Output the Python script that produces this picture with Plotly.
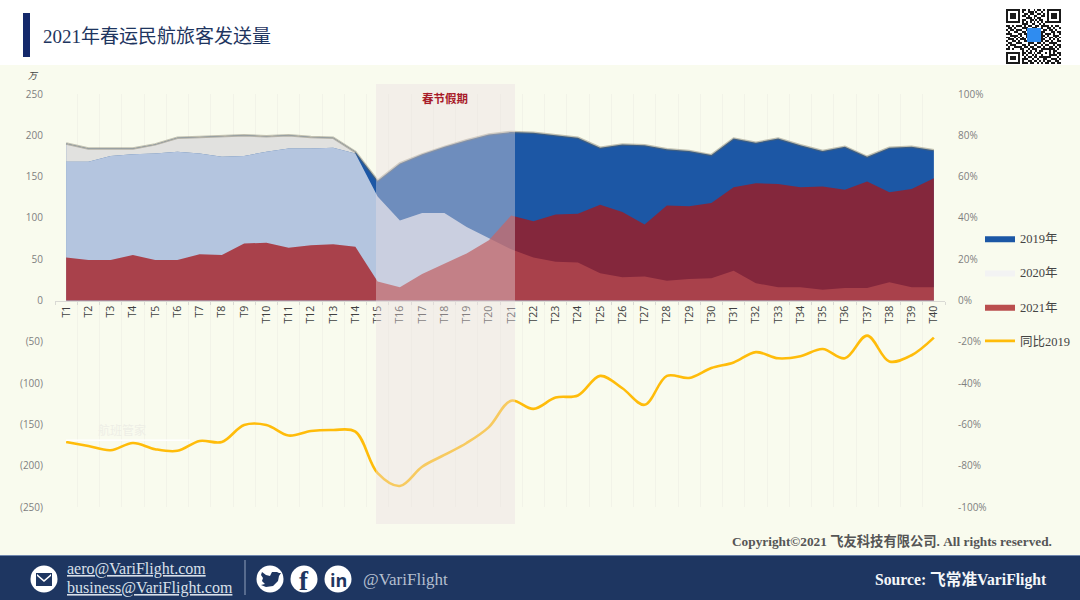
"""2021年春运民航旅客发送量 图表。"""

import plotly.graph_objects as go

W, H = 1080, 600

categories = [f"T{i}" for i in range(1, 41)]
pax_2019 = [190, 184, 184, 184, 189, 197, 198, 199, 200, 199, 200, 198, 197, 180, 145, 166, 177, 186, 194, 201,
            204, 203, 200, 197, 185, 189, 188, 183, 181, 176, 196, 191, 196, 188, 181, 186, 174, 185, 186, 182]
pax_2020 = [168, 168, 175, 177, 178, 180, 178, 174, 175, 180, 184, 184, 185, 178, 126, 97, 106, 106, 89, 75,
            62, 52, 47, 46, 33, 28, 29, 24, 26, 27, 36, 21, 16, 16, 13, 15, 15, 22, 16, 16]
pax_2021 = [52, 49, 49, 55, 49, 49, 56, 55, 69, 70, 64, 67, 68, 65, 23, 16, 32, 45, 57, 73,
            103, 96, 104, 105, 116, 107, 92, 115, 114, 118, 137, 142, 141, 137, 138, 134, 144, 131, 135, 148]
yoy_2019 = [-68.5, -70.5, -72.5, -69, -72, -72.8, -68, -68.5, -60.3, -60.3, -65.4, -63.2, -62.7, -63.5, -83.6,
            -89.8, -80.5, -74.8, -69, -61.3, -48.5, -52.5, -47, -46, -36.5, -42.5, -50.5, -36.5, -37.5, -32.7,
            -30, -25, -28, -27, -23.5, -28, -17, -29.5, -26.5, -18]

left_ticks = [250, 200, 150, 100, 50, 0, -50, -100, -150, -200, -250]
left_labels = ["250", "200", "150", "100", "50", "0", "(50)", "(100)", "(150)", "(200)", "(250)"]
right_ticks = [100, 80, 60, 40, 20, 0, -20, -40, -60, -80, -100]
right_labels = [f"{v}%" for v in right_ticks]

qr_rows = [
    "1111111011010010110101111111",
    "1000001010011101001001000001",
    "1011101001101100110101011101",
    "1011101011010011001101011101",
    "1011101000111010110001011101",
    "1000001011001101011001000001",
    "1111111010101010101011111111",
    "0000000011100110010100000000",
    "1101011101011001101111010110",
    "0110100011100111001001101001",
    "1011011100110000110110110100",
    "0100110011001011001100011011",
    "1110001101100000001011101001",
    "0011110100100000001101001110",
    "1100101010100000001010110101",
    "0111010111000000001100101010",
    "1001101001100000001011010011",
    "0110011100011100110100111100",
    "1011100011010011001011001011",
    "0100111101101100110100110101",
    "1101000110010111001111111010",
    "0000000010101001011000101100",
    "1111111011011010110010101011",
    "1000001010100101001000111101",
    "1011101001011011011111100010",
    "1011101011100100100110011101",
    "1000001010011011010101100110",
    "1111111011101100101011011011",
]

SERIF = "Liberation Serif, Noto Sans CJK SC"
SANS = "Open Sans, Noto Sans CJK SC"
NAVY = "#1e3661"


def fx(x):
    return x / W


def fy(y):
    return 1 - y / H


def box(x0, y0, x1, y1, color, layer="below"):
    return dict(type="rect", xref="paper", yref="paper", x0=fx(x0), x1=fx(x1), y0=fy(y0), y1=fy(y1),
                fillcolor=color, line_width=0, layer=layer)


def circle(cx, cy, r, color):
    return dict(type="circle", xref="paper", yref="paper", x0=fx(cx - r), x1=fx(cx + r), y0=fy(cy - r), y1=fy(cy + r),
                fillcolor=color, line_width=0, layer="above")


def note(x, y, text, size, color, anchor="left", family=SERIF):
    return dict(xref="paper", yref="paper", x=fx(x), y=fy(y), text=text, showarrow=False, xanchor=anchor,
                yanchor="middle", font=dict(size=size, color=color, family=family))


def poly(points, color):
    path = "M" + " L".join(f"{fx(x):.5f},{fy(y):.5f}" for x, y in points) + " Z"
    return dict(type="path", xref="paper", yref="paper", path=path, fillcolor=color, line_width=0, layer="above")


fig = go.Figure()

fig.add_trace(go.Scatter(x=categories, y=pax_2019, name="2019年", fill="tozeroy", mode="lines",
                         fillcolor="#1c57a5", line=dict(width=0, color="#1c57a5")))
fig.add_trace(go.Scatter(x=categories, y=pax_2020, name="2020年", fill="tozeroy", mode="lines",
                         fillcolor="rgba(240,240,245,0.72)", line=dict(width=0)))
# T1-T14 这段 2019 是灰色
fig.add_trace(go.Scatter(x=categories[:14], y=pax_2020[:14], mode="lines", line=dict(width=0), showlegend=False))
fig.add_trace(go.Scatter(x=categories[:14], y=pax_2019[:14], mode="lines", fill="tonexty", fillcolor="#e1e1df",
                         line=dict(width=0), showlegend=False))
fig.add_trace(go.Scatter(x=categories, y=pax_2019, mode="lines", showlegend=False,
                         line=dict(width=2.5, color="rgba(110,105,85,0.4)")))
fig.add_trace(go.Scatter(x=categories, y=pax_2021, name="2021年", fill="tozeroy", mode="lines",
                         fillcolor="rgba(165,24,28,0.76)", line=dict(width=0)))
fig.add_trace(go.Scatter(x=categories, y=yoy_2019, name="同比2019", yaxis="y2", mode="lines",
                         line=dict(color="#ffbc0a", width=2.6, shape="spline", smoothing=1.0)))
fig.add_trace(go.Heatmap(z=[[int(c) for c in row] for row in qr_rows], xaxis="x2", yaxis="y3", showscale=False,
                         colorscale=[[0, "#ffffff"], [1, "#1a1a1a"]], hoverinfo="skip"))

shapes = [
    box(0, 65, W, 555, "#f9fbee"),
    box(0, 555, W, 600, NAVY),
    box(0, 555, W, 556, "#6f86ad"),
    box(23, 13, 30, 57, "#14296b"),
    box(376, 84, 515, 524, "rgba(235,223,225,0.4)", layer="above"),
    box(66, 439.5, 190, 441, "#ffffff", layer="above"),
    box(1027, 28, 1041, 42, "#2f8cf0", layer="above"),
    box(244.5, 560, 245.5, 595, "#8fa0bb", layer="above"),
    circle(44, 579, 13.5, "#ffffff"),
    circle(270, 579, 13.5, "#ffffff"),
    circle(304, 579, 13.5, "#ffffff"),
    circle(338, 579, 13.5, "#ffffff"),
    box(36, 573, 52, 586, NAVY, layer="above"),
    poly([(37, 574), (44, 580), (51, 574), (51, 576), (44, 582), (37, 576)], "#ffffff"),
    poly([(262, 572), (266, 575), (270, 576), (272, 572), (277, 572), (279, 573), (281, 573), (279, 576),
          (278, 581), (273, 586), (266, 587), (261, 585), (265, 584), (262, 581), (263, 578), (261, 575)], NAVY),
]

annotations = [
    note(41, 36, "2021年春运民航旅客发送量", 19, "#1e3560"),
    note(26, 75, "<i>万</i>", 9, "#444444", family=SANS),
    note(445, 98, "<b>春节假期</b>", 11.5, "#a81c2a", anchor="center"),
    note(122, 430, "航班管家", 12, "#eeeee6", anchor="center"),
    note(1054, 541, "<b>Copyright©2021 飞友科技有限公司. All rights reserved.</b>", 13.3, "#555555", anchor="right"),
    note(65, 569, "<u>aero@VariFlight.com</u>", 16, "#d9e0ea"),
    note(65, 588, "<u>business@VariFlight.com</u>", 16, "#d9e0ea"),
    note(361, 579, "@VariFlight", 17, "#b4bfcf"),
    note(1049, 580, "<b>Source: 飞常准VariFlight</b>", 15.7, "#f4f6f9", anchor="right"),
    note(304, 581, "<b>f</b>", 27, NAVY, anchor="center"),
    note(338, 580, "<b>in</b>", 18, NAVY, anchor="center", family=SANS),
]

fig.update_layout(
    width=W,
    height=H,
    margin=dict(l=0, r=0, t=0, b=0, autoexpand=False),
    paper_bgcolor="#ffffff",
    plot_bgcolor="rgba(0,0,0,0)",
    shapes=shapes,
    annotations=annotations,
    legend=dict(x=fx(980), y=fy(223.5), xanchor="left", yanchor="top", traceorder="grouped", tracegroupgap=15,
                bgcolor="rgba(0,0,0,0)", font=dict(size=12.5, color="#444444", family=SERIF), itemwidth=30),
    xaxis=dict(domain=[fx(55), fx(945)], range=[-0.5, 39.5], type="category", categoryorder="array",
               categoryarray=categories, anchor="free", position=fy(300.5), tickangle=-90, tickson="boundaries",
               tickmode="linear", dtick=1, showgrid=True, gridcolor="#f2f3e8", gridwidth=1, showline=True,
               linecolor="#d9d9d4", ticks="outside", ticklen=3, tickcolor="#d9d9d4",
               tickfont=dict(size=10.5, color="#404040", family=SANS)),
    yaxis=dict(domain=[fy(507), fy(94)], range=[-250, 250], tickvals=left_ticks, ticktext=left_labels,
               showgrid=False, zeroline=False, ticks="outside", ticklen=9, tickcolor="rgba(0,0,0,0)",
               tickfont=dict(size=10, color="#7f7f7f", family=SANS)),
    yaxis2=dict(overlaying="y", side="right", range=[-100, 100], tickvals=right_ticks, ticktext=right_labels,
                showgrid=False, zeroline=False, ticks="outside", ticklen=10, tickcolor="rgba(0,0,0,0)",
                tickfont=dict(size=10, color="#7f7f7f", family=SANS)),
    xaxis2=dict(domain=[fx(1006), fx(1061)], anchor="y3", visible=False),
    yaxis3=dict(domain=[fy(64), fy(9)], anchor="x2", visible=False, autorange="reversed"),
)

for trace in fig.data:
    if trace.name:
        trace.legendgroup = trace.name

# 去掉页面默认 8px 边距，让图贴满窗口
fig.write_html("out.html", config={"displayModeBar": False}, post_script="document.body.style.margin = '0';")
